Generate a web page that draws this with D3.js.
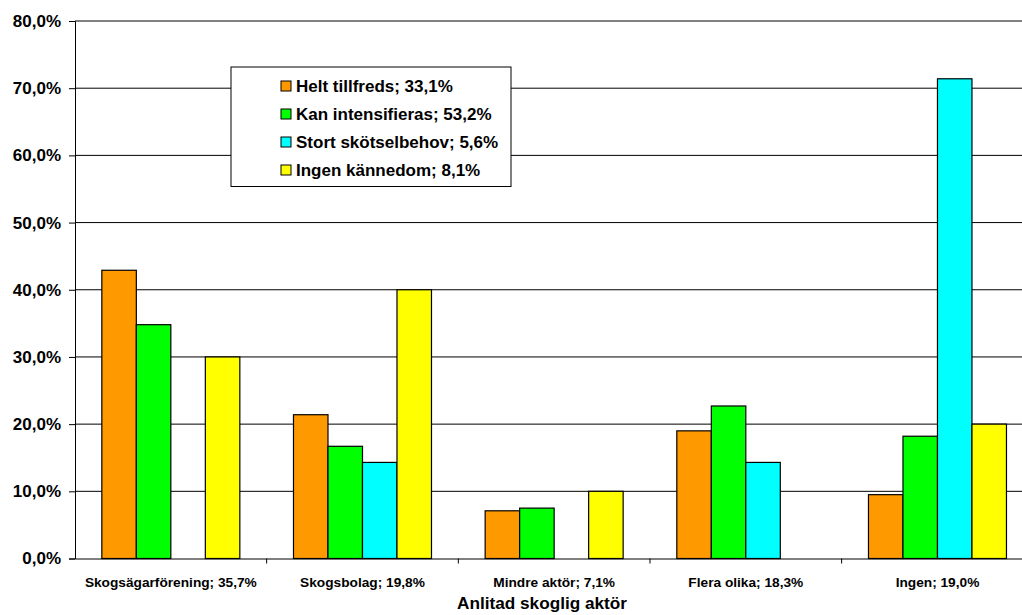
<!DOCTYPE html>
<html>
<head>
<meta charset="utf-8">
<script src="https://cdn.jsdelivr.net/npm/d3@7"></script>
<style>
  html, body { margin: 0; padding: 0; background: #fff; }
  svg { display: block; font-family: "Liberation Sans", Arial, sans-serif; }
</style>
</head>
<body>
<svg id="chart" width="1022" height="615"></svg>
<script>
// Categories (x axis) and series
const categories = ["Skogsägarförening; 35,7%", "Skogsbolag; 19,8%", "Mindre aktör; 7,1%", "Flera olika; 18,3%", "Ingen; 19,0%"];
const seriesNames = ["Helt tillfreds; 33,1%", "Kan intensifieras; 53,2%", "Stort skötselbehov; 5,6%", "Ingen kännedom; 8,1%"];
const seriesColors = ["#FF9900", "#00FF00", "#00FFFF", "#FFFF00"];

// Percent values per series, one value per category
const heltTillfreds   = [42.9, 21.4, 7.1, 19.0, 9.5];
const kanIntensifieras = [34.8, 16.7, 7.5, 22.7, 18.2];
const stortSkotsel    = [0.0, 14.3, 0.0, 14.3, 71.4];
const ingenKannedom   = [30.0, 40.0, 10.0, 0.0, 20.0];
const seriesValues = [heltTillfreds, kanIntensifieras, stortSkotsel, ingenKannedom];

const yTicks = [0, 10, 20, 30, 40, 50, 60, 70, 80];
const xTitle = "Anlitad skoglig aktör";

const FONT = "'Liberation Sans', Arial, sans-serif";
const svg = d3.select("#chart");
const plot = { left: 75, right: 1033.3, top: 21, bottom: 558.5 };

const y = d3.scaleLinear().domain([0, 80]).range([plot.bottom, plot.top]);
const x0 = d3.scaleBand().domain(categories).range([plot.left, plot.right]).padding(0);
const catW = x0.bandwidth();
const gap = catW * 0.28;
const x1 = d3.scaleBand().domain(d3.range(seriesNames.length)).range([gap / 2, catW - gap / 2]).padding(0);

const fmt = v => d3.format(".1f")(v).replace(".", ",") + "%";

// Horizontal gridlines
svg.append("g")
  .selectAll("line")
  .data(yTicks.filter(t => t > 0))
  .join("line")
  .attr("x1", plot.left).attr("x2", 1022)
  .attr("y1", d => y(d)).attr("y2", d => y(d))
  .attr("stroke", "#000").attr("stroke-width", 1);

// Y axis
const yAxis = d3.axisLeft(y).tickValues(yTicks).tickSize(6).tickPadding(8).tickFormat(fmt);
const gy = svg.append("g").attr("transform", `translate(${plot.left},0)`).call(yAxis);
gy.select(".domain").attr("stroke", "#000");
gy.selectAll(".tick line").attr("stroke", "#000");
gy.selectAll(".tick text")
  .attr("fill", "#000")
  .style("font-size", "17px").style("font-weight", "bold")
  .style("font-family", FONT);

// Bars
const groups = svg.append("g")
  .selectAll("g")
  .data(categories)
  .join("g")
  .attr("transform", d => `translate(${x0(d)},0)`);

groups.selectAll("rect")
  .data((c, ci) => seriesValues.map((vals, si) => ({ si, v: vals[ci] })).filter(d => d.v > 0))
  .join("rect")
  .attr("x", d => x1(d.si))
  .attr("width", x1.bandwidth())
  .attr("y", d => y(d.v))
  .attr("height", d => y(0) - y(d.v))
  .attr("fill", d => seriesColors[d.si])
  .attr("stroke", "#000")
  .attr("stroke-width", 1.2);

// X axis
const xAxis = d3.axisBottom(x0).tickSize(0).tickPadding(19);
const gx = svg.append("g").attr("transform", `translate(0,${plot.bottom})`).call(xAxis);
gx.select(".domain").attr("stroke", "#000");
gx.selectAll(".tick text")
  .attr("fill", "#000")
  .style("font-size", "13.7px").style("font-weight", "bold")
  .style("font-family", FONT);

// Category boundary tick marks
gx.append("g")
  .selectAll("line")
  .data(categories.slice(1))
  .join("line")
  .attr("x1", d => x0(d)).attr("x2", d => x0(d))
  .attr("y1", 0).attr("y2", 5)
  .attr("stroke", "#000");

// X axis title
svg.append("text")
  .attr("x", 542).attr("y", 609)
  .attr("text-anchor", "middle")
  .style("font-size", "17.2px").style("font-weight", "bold")
  .text(xTitle);

// Legend
const legend = svg.append("g").attr("transform", "translate(231,67)");
legend.append("rect")
  .attr("width", 280).attr("height", 119.5)
  .attr("fill", "#fff").attr("stroke", "#000").attr("stroke-width", 1);
const items = legend.selectAll("g.item")
  .data(seriesNames)
  .join("g").attr("class", "item")
  .attr("transform", (d, i) => `translate(50,${19 + i * 28})`);
items.append("rect")
  .attr("x", 0).attr("y", -5).attr("width", 10).attr("height", 10)
  .attr("fill", (d, i) => seriesColors[i]).attr("stroke", "#000").attr("stroke-width", 1);
items.append("text")
  .attr("x", 15).attr("y", 6)
  .style("font-size", "17px").style("font-weight", "bold")
  .text(d => d);
</script>
</body>
</html>
